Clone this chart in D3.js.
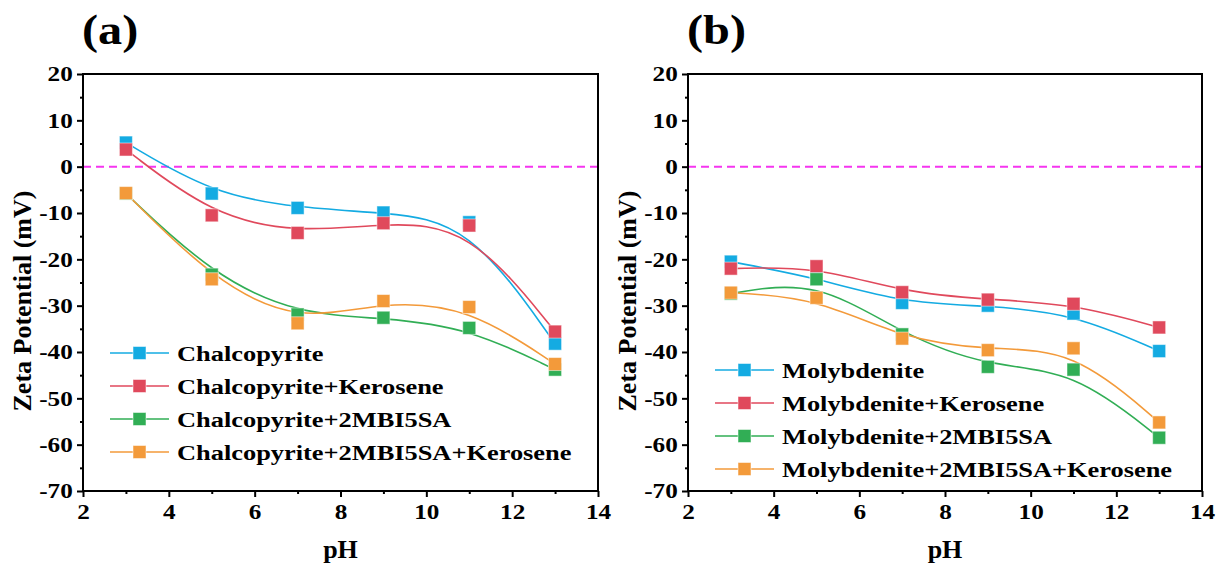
<!DOCTYPE html>
<html>
<head>
<meta charset="utf-8">
<script src="https://cdn.jsdelivr.net/npm/d3@7"></script>
<style>
    body { margin: 0; background: #fff; }
    svg text { font-family: "Liberation Serif", "DejaVu Serif", serif; font-weight: bold; fill: #000; }
</style>
</head>
<body>
<svg id="chart_svg" width="1225" height="575"></svg>
<script>

svg_width = 1225
svg_height = 575
plot_top = 74
plot_bottom = 491
stretch = 1.2   // the original figure is a bit wider than tall

// data
ph_values = [3, 5, 7, 9, 11, 13]
x_ticks = [2, 4, 6, 8, 10, 12, 14]
y_ticks = [20, 10, 0, -10, -20, -30, -40, -50, -60, -70]

chalco_names = ["Chalcopyrite", "Chalcopyrite+Kerosene", "Chalcopyrite+2MBI5SA", "Chalcopyrite+2MBI5SA+Kerosene"]
chalco = [5.2, -5.8, -8.9, -9.9, -12.0, -38.2]
chalco_kero = [3.7, -10.5, -14.3, -12.2, -12.7, -35.6]
chalco_mbi = [-5.8, -23.3, -31.9, -32.6, -34.8, -43.8]
chalco_mbi_kero = [-5.7, -24.3, -33.8, -29.0, -30.3, -42.6]

molyb_names = ["Molybdenite", "Molybdenite+Kerosene", "Molybdenite+2MBI5SA", "Molybdenite+2MBI5SA+Kerosene"]
molyb = [-20.5, -24.0, -29.4, -30.0, -31.7, -39.8]
molyb_kero = [-22.0, -21.5, -27.1, -28.7, -29.6, -34.7]
molyb_mbi = [-27.4, -24.3, -36.2, -43.2, -43.8, -58.5]
molyb_mbi_kero = [-27.2, -28.3, -37.1, -39.6, -39.2, -55.2]

series_colors = ["#14ABE2", "#E0495C", "#31AE55", "#F39A3A"]

document.addEventListener('DOMContentLoaded', function () {
    svg = d3.select('#chart_svg');

    drawPanel(svg, 83, 598, "(a)", chalco_names,
        [chalco, chalco_kero, chalco_mbi, chalco_mbi_kero], 353, 110);
    drawPanel(svg, 688, 1202, "(b)", molyb_names,
        [molyb, molyb_kero, molyb_mbi, molyb_mbi_kero], 370, 715);
});

function wideText(g, x, y, size, sx, str) {
    return g.append("text")
        .attr("transform", "translate(" + x + "," + y + ") scale(" + sx + ",1)")
        .style("font-size", size + "px")
        .text(str);
}

function drawPanel(svg, left, right, label, names, series, legend_y, legend_x) {

    var xScale = d3.scaleLinear().domain([2, 14]).range([left, right]);
    var yScale = d3.scaleLinear().domain([-70, 20]).range([plot_bottom, plot_top]);

    var g = svg.append("g");

    // zero line
    g.append("line")
        .attr("x1", left).attr("x2", right)
        .attr("y1", yScale(0)).attr("y2", yScale(0))
        .style("stroke", "#F535F0")
        .style("stroke-width", 2)
        .style("stroke-dasharray", "8,5");

    var line = d3.line()
        .x((d, i) => xScale(ph_values[i]))
        .y(d => yScale(d))
        .curve(d3.curveBasis);

    series.forEach(function (vals, k) {
        g.append("path")
            .datum(vals)
            .attr("d", line)
            .style("fill", "none")
            .style("stroke", series_colors[k])
            .style("stroke-width", 1.6);
    });

    series.forEach(function (vals, k) {
        g.selectAll(".pt" + k)
            .data(vals)
            .enter()
            .append("rect")
            .attr("class", "pt" + k)
            .attr("x", (d, i) => xScale(ph_values[i]) - 6.5)
            .attr("y", d => yScale(d) - 6.5)
            .attr("width", 13)
            .attr("height", 13)
            .style("fill", series_colors[k])
            .style("stroke", "#ffffff")
            .style("stroke-opacity", 0.5)
            .style("stroke-width", 1);
    });

    // frame
    g.append("rect")
        .attr("x", left).attr("y", plot_top)
        .attr("width", right - left).attr("height", plot_bottom - plot_top)
        .style("fill", "none")
        .style("stroke", "#000")
        .style("stroke-width", 2);

    // axes
    var xAxis = d3.axisBottom(xScale).tickValues(x_ticks).tickSize(6).tickSizeOuter(0).tickPadding(7.5);
    var xMinor = d3.axisBottom(xScale).tickValues(d3.range(3, 14, 2)).tickSize(3).tickFormat("");
    var yAxis = d3.axisLeft(yScale).tickValues(y_ticks).tickSize(6).tickSizeOuter(0).tickPadding(2.5)
        .tickFormat(d => d < 0 ? "-" + Math.abs(d) : d);
    var yMinor = d3.axisLeft(yScale).tickValues(d3.range(15, -70, -10)).tickSize(3).tickFormat("");

    [xAxis, xMinor].forEach(function (ax) {
        var a = g.append("g").attr("transform", "translate(0," + plot_bottom + ")").call(ax);
        a.attr("font-family", null);
        a.select(".domain").remove();
        a.selectAll("line").style("stroke", "#000").style("stroke-width", 2);
        a.selectAll("text").style("font-size", "21px").attr("transform", "scale(" + stretch + ",1)");
    });
    [yAxis, yMinor].forEach(function (ax) {
        var a = g.append("g").attr("transform", "translate(" + left + ",0)").call(ax);
        a.attr("font-family", null);
        a.select(".domain").remove();
        a.selectAll("line").style("stroke", "#000").style("stroke-width", 2);
        a.selectAll("text").style("font-size", "21px").attr("transform", "scale(" + stretch + ",1)");
    });

    // titles
    g.append("text")
        .attr("x", (left + right) / 2)
        .attr("y", 558)
        .attr("text-anchor", "middle")
        .style("font-size", "26px")
        .text("pH");

    g.append("text")
        .attr("transform", "translate(" + (left - 52) + ",301) rotate(-90)")
        .attr("text-anchor", "middle")
        .style("font-size", "26px")
        .text("Zeta Potential (mV)");

    wideText(g, left - 1, 44, 42, 1.15, label);

    // legend
    names.forEach(function (name, k) {
        var y = legend_y + k * 33;
        g.append("line")
            .attr("x1", legend_x).attr("x2", legend_x + 59)
            .attr("y1", y).attr("y2", y)
            .style("stroke", series_colors[k])
            .style("stroke-width", 1.6);
        g.append("rect")
            .attr("x", legend_x + 29.5 - 6.5).attr("y", y - 6.5)
            .attr("width", 13).attr("height", 13)
            .style("fill", series_colors[k])
            .style("stroke", "#ffffff")
            .style("stroke-opacity", 0.5);
        wideText(g, legend_x + 67, y + 7.5, 22, stretch, name);
    });
}

</script>
</body>
</html>
